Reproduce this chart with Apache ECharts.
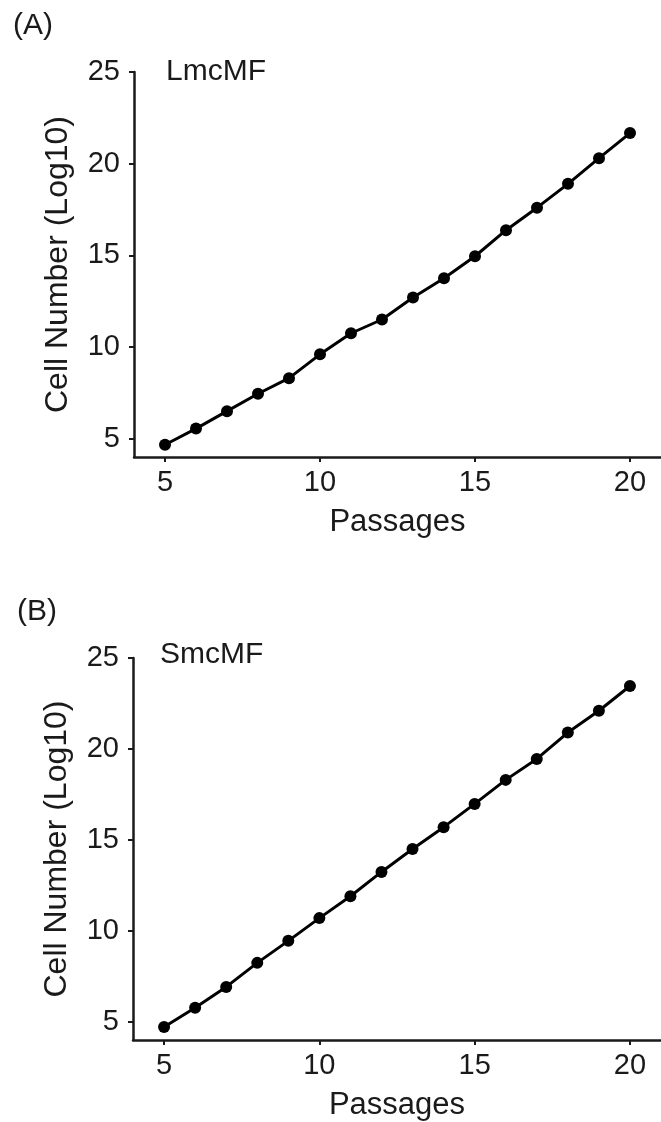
<!DOCTYPE html>
<html>
<head>
<meta charset="utf-8">
<title>Cell growth over passages</title>
<script src="https://cdn.jsdelivr.net/npm/echarts@6/dist/echarts.min.js"></script>
<style>
  html, body { margin: 0; padding: 0; background: #ffffff; }
  #chart { width: 661px; height: 1122px; }
</style>
</head>
<body>
<div id="chart"></div>
<script>
// Passage numbers (x) and cumulative cell number on a log10 scale (y)
const passages = [5, 6, 7, 8, 9, 10, 11, 12, 13, 14, 15, 16, 17, 18, 19, 20];
const lmcmfValues = [4.67, 5.55, 6.5, 7.45, 8.3, 9.6, 10.75, 11.5, 12.7, 13.75, 14.95, 16.37, 17.6, 18.9, 20.3, 21.67];
const smcmfValues = [4.72, 5.77, 6.92, 8.24, 9.45, 10.7, 11.9, 13.24, 14.5, 15.7, 16.98, 18.3, 19.45, 20.9, 22.1, 23.46];

const panelLabels = ['(A)', '(B)'];
const seriesNames = ['LmcMF', 'SmcMF'];
const xTicks = [5, 10, 15, 20];
const yTicks = [5, 10, 15, 20, 25];
const xTitle = 'Passages';
const yTitle = 'Cell Number (Log10)';

const FONT = '"Liberation Sans", Arial, Helvetica, sans-serif';
const INK = '#1a1a1a';

const chart = echarts.init(document.getElementById('chart'), null, { renderer: 'canvas' });

function xAxisFor(gridIndex) {
  return {
    type: 'value', gridIndex: gridIndex, min: 4, max: 21,
    name: xTitle, nameLocation: 'middle', nameGap: 50,
    nameTextStyle: { fontFamily: FONT, fontSize: 31, color: INK },
    axisLine: { show: true, onZero: false, lineStyle: { color: INK, width: 2.5 } },
    axisTick: { show: true, length: 5, lineStyle: { color: INK, width: 2 }, customValues: xTicks },
    axisLabel: { fontFamily: FONT, fontSize: 29, color: INK, margin: 11, customValues: xTicks },
    splitLine: { show: false }
  };
}

function yAxisFor(gridIndex) {
  return {
    type: 'value', gridIndex: gridIndex, min: 4, max: 25,
    name: yTitle, nameLocation: 'middle', nameGap: 60, nameRotate: 90,
    nameTextStyle: { fontFamily: FONT, fontSize: 32, color: INK },
    axisLine: { show: true, onZero: false, lineStyle: { color: INK, width: 2.5 } },
    axisTick: { show: true, length: 5, lineStyle: { color: INK, width: 2 }, customValues: yTicks },
    axisLabel: { fontFamily: FONT, fontSize: 29, color: INK, margin: 14, customValues: yTicks },
    splitLine: { show: false }
  };
}

function seriesFor(idx, values) {
  return {
    type: 'line', name: seriesNames[idx], xAxisIndex: idx, yAxisIndex: idx,
    data: passages.map((p, i) => [p, values[i]]),
    symbol: 'circle', symbolSize: 12,
    lineStyle: { color: '#000000', width: 3 },
    itemStyle: { color: '#000000' },
    animation: false, z: 3
  };
}

const option = {
  backgroundColor: '#ffffff',
  animation: false,
  grid: [
    { left: 134, top: 72, width: 530, height: 385, containLabel: false },
    { left: 133, top: 658, width: 529, height: 382, containLabel: false }
  ],
  xAxis: [xAxisFor(0), xAxisFor(1)],
  yAxis: [yAxisFor(0), yAxisFor(1)],
  series: [seriesFor(0, lmcmfValues), seriesFor(1, smcmfValues)],
  graphic: [
    { type: 'text', left: 13, top: 11, style: { text: panelLabels[0], font: '30px ' + FONT, fill: INK } },
    { type: 'text', left: 17, top: 597, style: { text: panelLabels[1], font: '30px ' + FONT, fill: INK } },
    { type: 'text', left: 166, top: 57, style: { text: seriesNames[0], font: '30px ' + FONT, fill: INK } },
    { type: 'text', left: 160, top: 640, style: { text: seriesNames[1], font: '30px ' + FONT, fill: INK } }
  ]
};

chart.setOption(option);
</script>
</body>
</html>
